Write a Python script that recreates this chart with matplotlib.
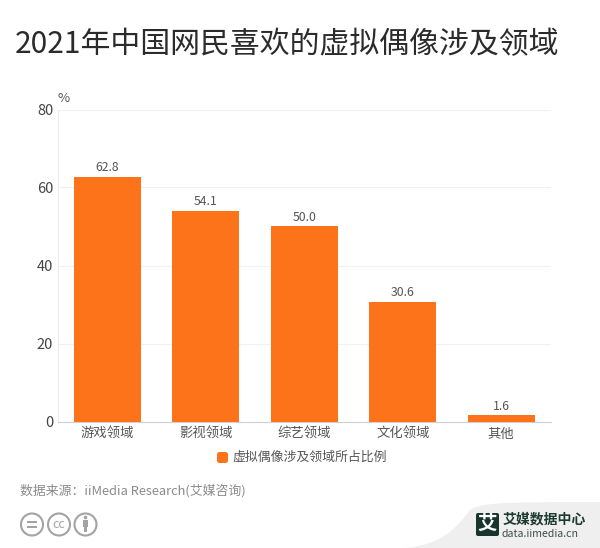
import matplotlib
matplotlib.use('Agg')
import matplotlib.pyplot as plt
from matplotlib.patches import Circle, FancyBboxPatch, PathPatch, Rectangle
from matplotlib.path import Path

plt.rcParams['font.family'] = ['Noto Sans CJK SC', 'DejaVu Sans']

# 数据
categories = ['游戏领域', '影视领域', '综艺领域', '文化领域', '其他']
values = [62.8, 54.1, 50.0, 30.6, 1.6]
y_ticks = [0, 20, 40, 60, 80]
title = '2021年中国网民喜欢的虚拟偶像涉及领域'
legend_label = '虚拟偶像涉及领域所占比例'
source = '数据来源：iiMedia Research(艾媒咨询)'

W, H = 600, 548
orange = '#fc7319'

fig = plt.figure(figsize=(W / 100, H / 100), dpi=100, facecolor='white')

# 背景层,用像素坐标画底部的图标和logo
bg = fig.add_axes([0, 0, 1, 1])
bg.set_xlim(0, W)
bg.set_ylim(H, 0)
bg.axis('off')

ax = fig.add_axes([58 / W, 1 - 421.5 / H, 492.5 / W, 312 / H])
ax.patch.set_alpha(0)
x = range(len(categories))
ax.bar(x, values, width=0.68, color=orange, zorder=3)
for i, v in enumerate(values):
    ax.text(i, v + 0.7, f'{v:.1f}', ha='center', va='bottom', fontsize=8.8, color='#555555')

ax.set_xlim(-0.5, len(categories) - 0.5)
ax.set_ylim(0, 80)
ax.set_yticks(y_ticks)
ax.set_xticks(list(x))
ax.set_xticklabels(categories, fontsize=9.6, color='#555555')
ax.tick_params(axis='x', length=0, pad=4)
ax.tick_params(axis='y', length=0, pad=3.5, labelsize=10.5, labelcolor='#444444')
ax.grid(axis='y', color='#f1f1f1', linewidth=0.8, zorder=0)
for s in ['top', 'right']:
    ax.spines[s].set_visible(False)
ax.spines['left'].set_color('#ececec')
ax.spines['bottom'].set_color('#cfcfd6')

# 标题
bg.text(287, 45, title, ha='center', va='center', fontsize=21.5, color='#2b2b2b')
bg.text(58, 99, '%', ha='left', va='center', fontsize=9.5, color='#555555')

# 图例
bg.add_patch(FancyBboxPatch((217, 452), 11, 11, boxstyle='round,pad=0,rounding_size=2.5',
                            fc=orange, ec='none'))
bg.text(232, 457.5, legend_label, ha='left', va='center', fontsize=9.3, color='#555555')

# 数据来源
bg.text(20, 490.5, source, ha='left', va='center', fontsize=9.3, color='#8a8a8a')

# cc 图标
icon_gray = '#a3a3a3'
for cx in [32, 59, 85.5]:
    bg.add_patch(Circle((cx, 524.5), 11, fc='white', ec=icon_gray, lw=1.5))
bg.add_patch(Rectangle((27, 521), 10, 2, fc=icon_gray, ec='none'))
bg.add_patch(Rectangle((27, 526), 10, 2, fc=icon_gray, ec='none'))
bg.text(59, 524, 'cc', ha='center', va='center', fontsize=9, color=icon_gray)
bg.add_patch(Circle((85.5, 517.5), 1.8, fc=icon_gray, ec='none'))
bg.add_patch(Rectangle((83, 520), 5, 7, fc=icon_gray, ec='none'))
bg.add_patch(Rectangle((84, 527), 3, 5, fc=icon_gray, ec='none'))

# 右下角 logo 底板
band = Path([(405, 548), (440, 545), (455, 530), (470, 510), (482, 503), (495, 502),
             (600, 502), (600, 548), (405, 548)],
            [Path.MOVETO, Path.CURVE4, Path.CURVE4, Path.CURVE4, Path.CURVE4, Path.CURVE4,
             Path.LINETO, Path.LINETO, Path.CLOSEPOLY])
bg.add_patch(PathPatch(band, fc='#efefef', ec='none'))
bg.add_patch(FancyBboxPatch((476, 513), 23, 23, boxstyle='round,pad=0,rounding_size=2',
                            fc='#17352c', ec='none'))
bg.text(487.5, 524, '艾', ha='center', va='center', fontsize=14, color='white', fontweight='bold')
bg.text(503, 519.5, '艾媒数据中心', ha='left', va='center', fontsize=10, color='#1d3a31',
        fontweight='bold')
bg.text(502, 534, 'data.iimedia.cn', ha='left', va='center', fontsize=7.6, color='#3d4f49')

fig.savefig('out.png', dpi=100)
